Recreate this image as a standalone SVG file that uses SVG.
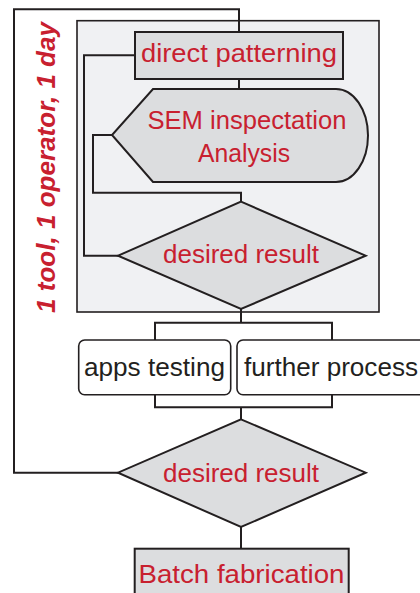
<svg xmlns="http://www.w3.org/2000/svg" width="420" height="593" viewBox="0 0 420 593">
<style>
.ln{fill:none;stroke:#231f20;stroke-width:2}
.nd{fill:#dcdddf;stroke:#231f20;stroke-width:2}
.wb{fill:#ffffff;stroke:#231f20;stroke-width:1.6}
.rt{font-family:"Liberation Sans",Arial,sans-serif;font-size:26px;fill:#c8202f;text-anchor:middle}
.bt{font-family:"Liberation Sans",Arial,sans-serif;font-size:26px;fill:#231f20;text-anchor:middle}
</style>
<rect width="420" height="593" fill="#ffffff"/>
<g id="panel"><rect x="77" y="20.7" width="302" height="291.3" fill="#f0f1f3" stroke="#231f20" stroke-width="1.6"/></g>
<g id="connectors">
<path class="ln" d="M118,472.7 H14 V9.3 H239 V32"/>
<path class="ln" d="M135,55.3 H84 V255.7 H118"/>
<path class="ln" d="M239,79 V89"/>
<path class="ln" d="M112,135 H93 V192.7 H241 V201.7"/>
<path class="ln" d="M241,309 V322.7 M155,340 V322.7 H332 V340"/>
<path class="ln" d="M155,394.7 V407.3 H332 V394.7 M241,407.3 V419.3"/>
<path class="ln" d="M241,527 V548.7"/>
</g>
<g id="label"><text transform="translate(55,167.5) rotate(-90)" class="rt" style="font-weight:bold;font-style:italic" textLength="291" lengthAdjust="spacingAndGlyphs">1 tool, 1 operator, 1 day</text></g>
<g id="direct"><rect class="nd" x="135" y="32" width="208" height="47"/><text class="rt" x="239" y="62" textLength="196" lengthAdjust="spacingAndGlyphs">direct patterning</text></g>
<g id="sem"><path class="nd" d="M153,89 H336 A32,46.5 0 0 1 336,182 H153 L112,135 Z"/><text class="rt" x="247" y="129.3" textLength="199" lengthAdjust="spacingAndGlyphs">SEM inspectation</text><text class="rt" x="244" y="162.3" textLength="92" lengthAdjust="spacingAndGlyphs">Analysis</text></g>
<g id="decision1"><path class="nd" d="M241,201.7 L365.7,255.7 L241,309 L118,255.7 Z"/><text class="rt" x="241" y="262.7" textLength="156" lengthAdjust="spacingAndGlyphs">desired result</text></g>
<g id="apps"><rect class="wb" x="78.7" y="340" width="152" height="54.7" rx="6"/><text class="bt" x="154.5" y="376" textLength="141" lengthAdjust="spacingAndGlyphs">apps testing</text></g>
<g id="further"><rect class="wb" x="237" y="340" width="200" height="54.7" rx="6"/><text class="bt" x="331" y="376" textLength="174" lengthAdjust="spacingAndGlyphs">further process</text></g>
<g id="decision2"><path class="nd" d="M241,419.3 L365.7,472.7 L241,527 L118,472.7 Z"/><text class="rt" x="241" y="481.7" textLength="156" lengthAdjust="spacingAndGlyphs">desired result</text></g>
<g id="batch"><rect class="nd" x="134.7" y="548.7" width="214" height="60"/><text class="rt" x="241.5" y="582.7" textLength="206" lengthAdjust="spacingAndGlyphs">Batch fabrication</text></g>
</svg>
